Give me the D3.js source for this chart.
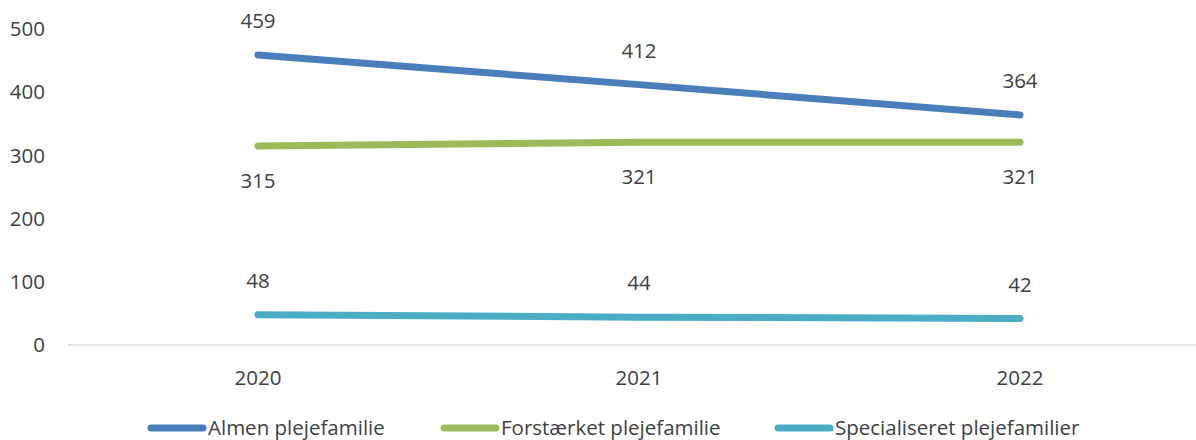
<!DOCTYPE html>
<html>
<head>
<meta charset="utf-8">
<script src="https://cdn.jsdelivr.net/npm/d3@7"></script>
<style>
  body { margin: 0; background: #fff; }
  text { font-family: "Open Sans", "Noto Sans", sans-serif; fill: #404040; }
</style>
</head>
<body>
<svg id="chart" width="1196" height="440"></svg>
<script>
// chart data
const years = ["2020", "2021", "2022"];
const almen = [459, 412, 364];
const forstaerket = [315, 321, 321];
const specialiseret = [48, 44, 42];
const yTicks = [0, 100, 200, 300, 400, 500];

const series = [
    {name: "Almen plejefamilie", values: almen, color: "#4a7ebb", labelPos: "above"},
    {name: "Forstærket plejefamilie", values: forstaerket, color: "#9bbb59", labelPos: "below"},
    {name: "Specialiseret plejefamilier", values: specialiseret, color: "#4bacc6", labelPos: "above"}
];

const FONT = "20.5px";
const svg = d3.select("#chart");

const x = d3.scaleBand()
    .domain(years)
    .range([67.5, 1210.5]);

const y = d3.scaleLinear()
    .domain([0, 500])
    .range([345, 29]);

// y labels (no axis line)
svg.append("g")
    .selectAll("text")
    .data(yTicks)
    .enter()
    .append("text")
        .attr("x", 45)
        .attr("y", d => y(d))
        .attr("dy", "0.35em")
        .attr("text-anchor", "end")
        .style("font-size", FONT)
        .text(d => d);

// x axis line
svg.append("line")
    .attr("x1", 68).attr("x2", 1196)
    .attr("y1", y(0)).attr("y2", y(0))
    .attr("stroke", "#d9d9d9")
    .attr("stroke-width", 1.5);

svg.append("g")
    .selectAll("text")
    .data(years)
    .enter()
    .append("text")
        .attr("x", d => x(d) + x.bandwidth() / 2)
        .attr("y", 378)
        .attr("dy", "0.35em")
        .attr("text-anchor", "middle")
        .style("font-size", FONT)
        .text(d => d);

const line = d3.line()
    .x((d, i) => x(years[i]) + x.bandwidth() / 2)
    .y(d => y(d));

series.forEach(s => {
    svg.append("path")
        .datum(s.values)
        .attr("d", line)
        .attr("fill", "none")
        .attr("stroke", s.color)
        .attr("stroke-width", 7)
        .attr("stroke-linecap", "round");

    svg.append("g")
        .selectAll("text")
        .data(s.values)
        .enter()
        .append("text")
            .attr("x", (d, i) => x(years[i]) + x.bandwidth() / 2)
            .attr("y", d => y(d) + (s.labelPos === "above" ? -34 : 35))
            .attr("dy", "0.35em")
            .attr("text-anchor", "middle")
            .style("font-size", FONT)
            .text(d => d);
});

// legend
const legendX = [148, 441, 775];
const legend = svg.append("g");
series.forEach((s, i) => {
    legend.append("line")
        .attr("x1", legendX[i] + 3).attr("x2", legendX[i] + 55)
        .attr("y1", 428).attr("y2", 428)
        .attr("stroke", s.color)
        .attr("stroke-width", 7)
        .attr("stroke-linecap", "round");
    legend.append("text")
        .attr("x", legendX[i] + 60)
        .attr("y", 428)
        .attr("dy", "0.35em")
        .style("font-size", FONT)
        .text(s.name);
});
</script>
</body>
</html>
